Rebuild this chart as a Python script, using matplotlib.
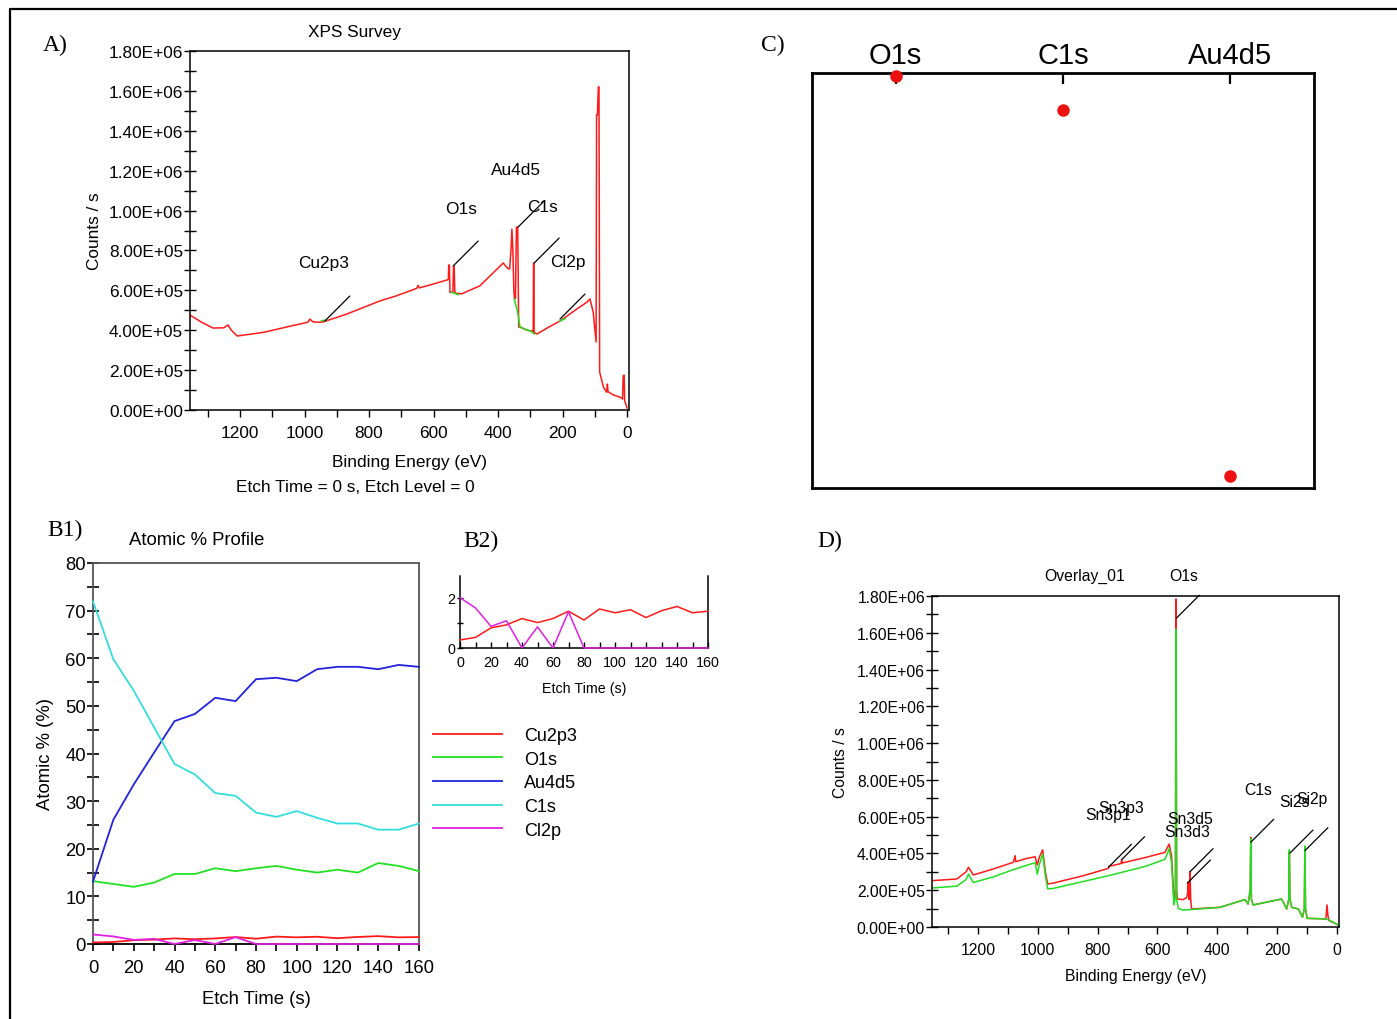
import matplotlib
matplotlib.use("Agg")
import matplotlib.pyplot as plt
from matplotlib.ticker import MultipleLocator, FuncFormatter
from matplotlib.lines import Line2D

plt.rcParams['font.family'] = ['Liberation Sans', 'DejaVu Sans']

W, H = 1397, 1020

# ---- A) XPS survey (etch time 0) ----
a_be = [1355, 1320, 1284, 1250, 1237, 1228, 1209, 1128, 1045, 990, 983, 975, 962, 943,
        869, 766, 714, 652, 648, 644, 600, 558, 554, 553, 551, 549, 540, 538, 536, 534,
        513, 456, 384, 370, 364, 360, 357, 354, 351, 349, 346, 343, 339, 336, 332, 310,
        295, 291, 290, 289, 288, 279, 249, 208, 156, 125, 115, 105, 96, 94.5, 92, 89, 87,
        85, 73, 63, 61, 59, 42, 22, 14, 12, 9, 7.5, 3, 0]
a_cnt = [476, 441, 411, 412, 426, 402, 371, 389, 420, 440, 456, 443, 440, 441,
         481, 547, 573, 610, 625, 612, 632, 652, 655, 727, 727, 590, 590, 722, 722, 587,
         582, 623, 737, 710, 707, 800, 907, 800, 600, 557, 560, 917, 917, 416, 416, 400,
         396, 392, 737, 737, 389, 381, 410, 446, 506, 540, 557, 491, 341, 1480, 1480, 1620, 1620,
         190, 114, 89, 130, 92, 75, 65, 55, 172, 175, 45, 25, 10]
a_cnt = [c * 1e3 for c in a_cnt]

# fitted backgrounds (green)
a_bg = [([947, 932], [448e3, 451e3]),
        ([544, 523], [590e3, 578e3]),
        ([350, 339, 332, 295, 288], [557e3, 490e3, 416e3, 392e3, 381e3]),
        ([208, 192], [446e3, 458e3])]

a_marks = ['Cu2p3', 'O1s', 'Au4d5', 'C1s', 'Cl2p']
a_mark_be = [937, 539, 338, 288, 208]
a_mark_cnt = [446e3, 722e3, 917e3, 737e3, 456e3]
a_txt_off = [(-1, 59), (8, 58), (-2, 58), (8, 57), (8, 58)]

# ---- B1/B2) atomic % profile ----
etch_t = [0, 10, 20, 30, 40, 50, 60, 70, 80, 90, 100, 110, 120, 130, 140, 150, 160]
cu2p3 = [0.32, 0.42, 0.80, 0.92, 1.17, 1.01, 1.17, 1.46, 1.11, 1.55, 1.40, 1.52, 1.21, 1.48, 1.65, 1.40, 1.46]
o1s = [13.2, 12.6, 12.0, 12.9, 14.7, 14.7, 15.9, 15.3, 15.9, 16.4, 15.6, 15.0, 15.6, 15.0, 17.0, 16.4, 15.3]
au4d5 = [13.1, 26.1, 33.5, 40.2, 46.8, 48.3, 51.7, 51.0, 55.6, 55.9, 55.2, 57.7, 58.2, 58.2, 57.7, 58.6, 58.2]
c1s = [71.9, 59.8, 53.2, 45.5, 37.8, 35.6, 31.7, 31.1, 27.6, 26.7, 27.9, 26.5, 25.3, 25.3, 24.0, 24.0, 25.3]
cl2p = [2.0, 1.59, 0.86, 1.08, 0.0, 0.84, 0.0, 1.44, 0, 0, 0, 0, 0, 0, 0, 0, 0]
elements = ['Cu2p3', 'O1s', 'Au4d5', 'C1s', 'Cl2p']
el_colors = ['#ff1a1a', '#22e022', '#2222dd', '#33dddd', '#e020e0']

# ---- C) ----
c_cats = ['O1s', 'C1s', 'Au4d5']
c_vals = [0.993, 0.911, 0.029]

# ---- D) overlay ----
d_be_r = [1355, 1271, 1240, 1232, 1216, 1150, 1082, 1076, 1074, 1040, 1009, 1002, 995, 984,
          975, 967, 948, 850, 764, 762, 722, 720, 718, 640, 575, 561, 553, 545, 540, 538,
          536, 533, 514, 502, 498, 497, 495, 492, 491, 489, 486, 391, 308, 297, 290, 288,
          286, 280, 185, 168, 161, 159, 157, 151, 129, 115, 109, 107, 105, 99.6, 37, 33,
          30, 26, 12, 2, -5]
d_cnt_r = [252, 261, 300, 325, 283, 315, 352, 388, 355, 372, 382, 337, 380, 420,
           300, 234, 239, 278, 319, 330, 345, 365, 348, 378, 406, 451, 388, 156, 200, 1784,
           200, 152, 149, 161, 200, 243, 150, 200, 301, 150, 98, 107, 149, 125, 200, 488,
           150, 120, 152, 98, 150, 410, 150, 107, 98, 53, 100, 433, 100, 47, 44, 120,
           60, 34, 25, 16, 10]
d_cnt_r = [c * 1e3 for c in d_cnt_r]
d_be_g = [1355, 1271, 1240, 1232, 1216, 1150, 1082, 1009, 1002, 995, 984, 975, 967, 948,
          764, 640, 575, 561, 553, 545, 540, 538, 536, 530, 514, 486, 391, 308, 297, 290,
          288, 286, 280, 185, 168, 161, 159, 157, 151, 129, 115, 109, 107, 105, 99.6, 37,
          30, 12, 2, -5]
d_cnt_g = [212, 222, 258, 288, 242, 272, 312, 350, 287, 340, 397, 280, 207, 210,
           279, 330, 368, 425, 350, 120, 160, 1620, 150, 100, 92, 95, 107, 149, 125, 200,
           480, 150, 120, 152, 98, 150, 420, 150, 107, 98, 53, 100, 440, 100, 47, 44,
           40, 25, 16, 10]
d_cnt_g = [c * 1e3 for c in d_cnt_g]

d_marks = ['O1s', 'Sn3p1', 'Sn3p3', 'Sn3d5', 'Sn3d3', 'C1s', 'Si2s', 'Si2p']
d_mark_be = [537, 764, 720, 491, 500, 288, 157, 107]
d_mark_cnt = [1.679e6, 325e3, 366e3, 301e3, 239e3, 461e3, 402e3, 415e3]
d_txt_off = [(7, 43), (0, 53), (0, 52), (0, 53), (0, 52), (7, 53), (5, 52), (7, 52)]


def box(l, t, r, b):
    return [l / W, 1 - b / H, (r - l) / W, (b - t) / H]


def sci(v, pos):
    return '%.2E' % v


def mark(ax, label, be, cnt, off, line_off, fs):
    ax.annotate('', xy=(be, cnt), xytext=line_off, textcoords='offset pixels',
                arrowprops=dict(arrowstyle='-', color='k', lw=0.9, shrinkA=0, shrinkB=0))
    ax.annotate(label, xy=(be, cnt), xytext=off, textcoords='offset pixels',
                ha='center', va='center', fontsize=fs)


def spectrum_axes(ax, xlim, fs):
    ax.set_xlim(*xlim)
    ax.set_ylim(0, 1.8e6)
    ax.xaxis.set_major_locator(MultipleLocator(200))
    ax.xaxis.set_minor_locator(MultipleLocator(100))
    ax.yaxis.set_major_locator(MultipleLocator(2e5))
    ax.yaxis.set_minor_locator(MultipleLocator(1e5))
    ax.yaxis.set_major_formatter(FuncFormatter(sci))
    ax.tick_params(axis='x', which='both', direction='out', length=5, width=1, labelsize=fs, pad=6)
    ax.tick_params(axis='y', which='both', direction='inout', length=8, width=1, labelsize=fs, pad=1)
    for s in ax.spines.values():
        s.set_linewidth(1.1)


fig = plt.figure(figsize=(W / 100, H / 100), dpi=100)

# outer frame (top and left)
fig.add_artist(Line2D([10 / W, 10 / W, 1], [0, 1 - 10 / H, 1 - 10 / H], color='k', lw=1.6))

serif = ['Liberation Serif', 'DejaVu Serif']
fig.text(55 / W, 1 - 45 / H, 'A)', family=serif, fontsize=17, ha='center', va='center')
fig.text(773 / W, 1 - 45 / H, 'C)', family=serif, fontsize=17, ha='center', va='center')
fig.text(65 / W, 1 - 530 / H, 'B1)', family=serif, fontsize=17, ha='center', va='center')
fig.text(481 / W, 1 - 541 / H, 'B2)', family=serif, fontsize=17, ha='center', va='center')
fig.text(830 / W, 1 - 541 / H, 'D)', family=serif, fontsize=17, ha='center', va='center')

# ---- A ----
fsA = 12.4
axA = fig.add_axes(box(190, 52, 629, 411))
axA.plot(a_be, a_cnt, color='#ff1a1a', lw=1.1)
for xs, ys in a_bg:
    axA.plot(xs, ys, color='#22dd22', lw=1.1)
spectrum_axes(axA, (1355, -6), fsA)
for lab, be, cnt, off in zip(a_marks, a_mark_be, a_mark_cnt, a_txt_off):
    mark(axA, lab, be, cnt, off, (25, 25), fsA)
axA.set_title('XPS Survey', fontsize=fsA, x=(354 - 190) / (629 - 190), pad=11)
axA.set_ylabel('Counts / s', fontsize=fsA, labelpad=5)
axA.set_xlabel('Binding Energy (eV)', fontsize=fsA, labelpad=10)
fig.text(355 / W, 1 - 488 / H, 'Etch Time = 0 s, Etch Level = 0', fontsize=fsA,
         ha='center', va='center')

# ---- B1 ----
fsB = 13.3
series = [cu2p3, o1s, au4d5, c1s, cl2p]
axB = fig.add_axes(box(93, 564, 419, 945))
handles = []
for vals, col, lab in zip(series, el_colors, elements):
    ln, = axB.plot(etch_t, vals, color=col, lw=1.3, label=lab, clip_on=False, zorder=3)
    handles.append(ln)
axB.set_xlim(0, 160)
axB.set_ylim(0, 80)
axB.xaxis.set_major_locator(MultipleLocator(20))
axB.xaxis.set_minor_locator(MultipleLocator(10))
axB.yaxis.set_major_locator(MultipleLocator(10))
axB.yaxis.set_minor_locator(MultipleLocator(5))
axB.tick_params(axis='x', which='both', direction='out', length=5, width=1.2, labelsize=fsB, pad=6)
axB.tick_params(axis='y', which='both', direction='inout', length=8, width=1.2, labelsize=fsB, pad=1)
for s in axB.spines.values():
    s.set_color('#555555')
    s.set_linewidth(1.3)
axB.spines['bottom'].set_color('k')
axB.set_xlabel('Etch Time (s)', fontsize=fsB, labelpad=10)
axB.set_ylabel('Atomic % (%)', fontsize=fsB, labelpad=8)
axB.set_title('Atomic % Profile', fontsize=fsB, x=(197 - 93) / (419 - 93), pad=14)
fig.legend(handles=handles, loc='upper left', bbox_to_anchor=(433 / W, 1 - 728 / H),
           frameon=False, fontsize=13, handlelength=3.8, handletextpad=1.22,
           labelspacing=0.37, borderpad=0, borderaxespad=0)

# ---- B2 ----
fsB2 = 10.3
axB2 = fig.add_axes(box(460, 577, 708, 649))
axB2.plot(etch_t, cu2p3, color=el_colors[0], lw=1.1, clip_on=False, zorder=3)
axB2.plot(etch_t, cl2p, color=el_colors[4], lw=1.1, clip_on=False, zorder=3)
axB2.set_xlim(0, 160)
axB2.set_ylim(0, 2.86)
axB2.spines['top'].set_visible(False)
for s in ['left', 'right', 'bottom']:
    axB2.spines[s].set_linewidth(1.1)
axB2.xaxis.set_major_locator(MultipleLocator(20))
axB2.xaxis.set_minor_locator(MultipleLocator(10))
axB2.yaxis.set_major_locator(MultipleLocator(2))
axB2.yaxis.set_minor_locator(MultipleLocator(1))
axB2.tick_params(axis='x', which='both', direction='in', length=4, width=1, labelsize=fsB2, pad=5)
axB2.tick_params(axis='y', which='both', direction='inout', length=5, width=1, labelsize=fsB2, pad=1)
axB2.set_xlabel('Etch Time (s)', fontsize=fsB2, labelpad=9)

# ---- C ----
axC = fig.add_axes(box(812, 74, 1314, 489))
axC.plot(range(len(c_cats)), c_vals, 'o', color='#ee1111', ms=8, clip_on=False, zorder=3)
axC.set_xlim(-0.5, 2.5)
axC.set_ylim(0, 1)
axC.set_xticks(range(len(c_cats)))
axC.set_xticklabels(c_cats)
axC.xaxis.tick_top()
axC.tick_params(axis='x', direction='in', length=8, width=1.6, labelsize=21, pad=3)
axC.set_yticks([])
for s in axC.spines.values():
    s.set_linewidth(2)

# ---- D ----
fsD = 11.3
axD = fig.add_axes(box(932, 597, 1339, 928))
axD.plot(d_be_r, d_cnt_r, color='#ff1a1a', lw=1.1)
axD.plot(d_be_g, d_cnt_g, color='#22dd22', lw=1.1)
spectrum_axes(axD, (1354, -7), fsD)
for lab, be, cnt, off in zip(d_marks, d_mark_be, d_mark_cnt, d_txt_off):
    mark(axD, lab, be, cnt, off, (23, 23), fsD)
axD.text((1085 - 932) / (1339 - 932), 1 + (597 - 576) / (928 - 597), 'Overlay_01',
         transform=axD.transAxes, fontsize=fsD, ha='center', va='center')
axD.set_ylabel('Counts / s', fontsize=fsD, labelpad=6)
axD.set_xlabel('Binding Energy (eV)', fontsize=fsD, labelpad=8)

fig.savefig('out.png', dpi=100)
